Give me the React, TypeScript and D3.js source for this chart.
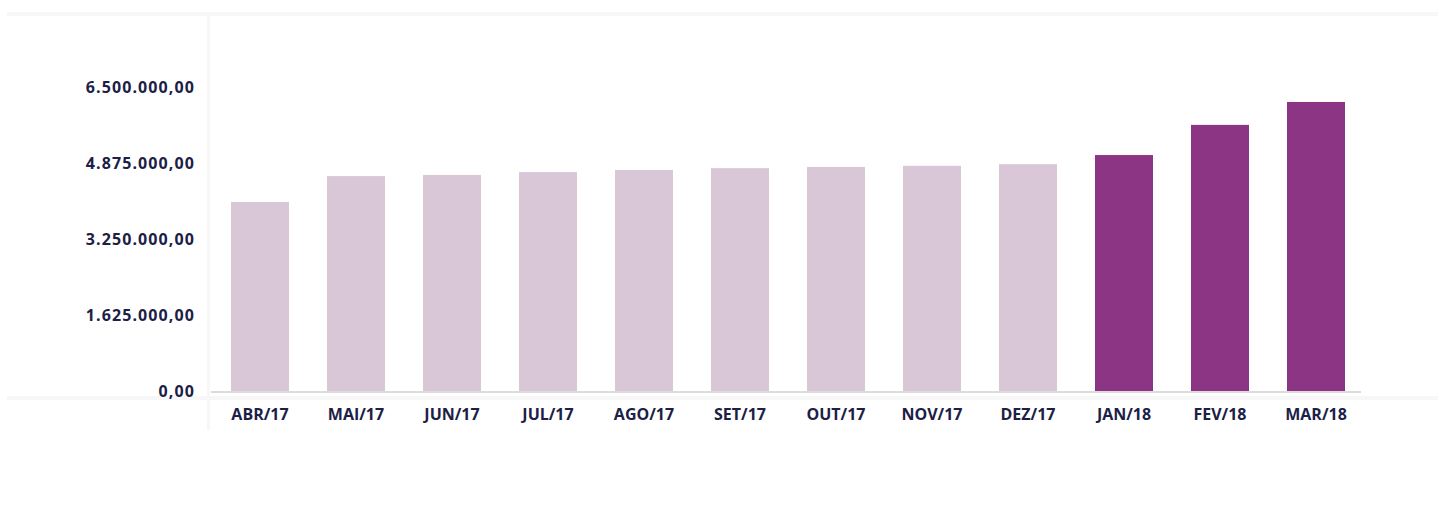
import { useEffect, useRef } from "react";
import * as d3 from "d3";

const months = ["ABR/17", "MAI/17", "JUN/17", "JUL/17", "AGO/17", "SET/17", "OUT/17", "NOV/17", "DEZ/17", "JAN/18", "FEV/18", "MAR/18"];
const values = [4040000, 4595000, 4620000, 4680000, 4725000, 4765000, 4790000, 4815000, 4850000, 5045000, 5690000, 6180000];
const highlighted = ["JAN/18", "FEV/18", "MAR/18"];
const yTicks = [0, 1625000, 3250000, 4875000, 6500000];
const yTickLabels = ["0,00", "1.625.000,00", "3.250.000,00", "4.875.000,00", "6.500.000,00"];

export default function App() {
  const ref = useRef<HTMLDivElement>(null);

  useEffect(() => {
    const width = 1440;
    const height = 522;
    ref.current!.innerHTML = "";

    const svg = d3.select(ref.current)
      .append("svg")
      .attr("width", width)
      .attr("height", height)
      .style("display", "block")
      .style("font-family", "'Open Sans', sans-serif");

    // faint frame lines
    svg.append("rect").attr("x", 7).attr("y", 12).attr("width", 1431).attr("height", 4).attr("fill", "#f7f7f7");
    svg.append("rect").attr("x", 207).attr("y", 16).attr("width", 3).attr("height", 414).attr("fill", "#f7f7f7");
    svg.append("rect").attr("x", 7).attr("y", 396).attr("width", 1431).attr("height", 4).attr("fill", "#f7f7f7");

    const x = d3.scaleBand()
      .domain(months)
      .range([212, 1364])
      .paddingInner(0.396)
      .paddingOuter(0.198);

    const y = d3.scaleLinear()
      .domain([0, 6500000])
      .range([391, 87]);

    svg.selectAll("rect.bar")
      .data(months)
      .enter()
      .append("rect")
      .attr("class", "bar")
      .attr("x", d => x(d)!)
      .attr("y", (d, i) => y(values[i]))
      .attr("width", x.bandwidth())
      .attr("height", (d, i) => y(0) - y(values[i]))
      .attr("fill", d => highlighted.includes(d) ? "#8b3584" : "#d9c7d7");

    // baseline
    svg.append("line")
      .attr("x1", 211).attr("x2", 1361)
      .attr("y1", 392).attr("y2", 392)
      .attr("stroke", "#dcdcdc")
      .attr("stroke-width", 2);

    svg.selectAll("text.ytick")
      .data(yTicks)
      .enter()
      .append("text")
      .attr("class", "ytick")
      .attr("x", 195)
      .attr("y", d => y(d))
      .attr("dy", "0.35em")
      .attr("text-anchor", "end")
      .attr("font-size", 16)
      .attr("letter-spacing", 1.1)
      .attr("font-weight", "bold")
      .attr("fill", "#1c2046")
      .text((d, i) => yTickLabels[i]);

    svg.selectAll("text.xtick")
      .data(months)
      .enter()
      .append("text")
      .attr("class", "xtick")
      .attr("x", d => x(d)! + x.bandwidth() / 2)
      .attr("y", 414)
      .attr("dy", "0.35em")
      .attr("text-anchor", "middle")
      .attr("font-size", 16)
      .attr("font-weight", "bold")
      .attr("fill", "#1c2046")
      .text(d => d);
  }, []);

  return <div ref={ref} style={{ position: "absolute", left: 0, top: 0 }}></div>;
}
